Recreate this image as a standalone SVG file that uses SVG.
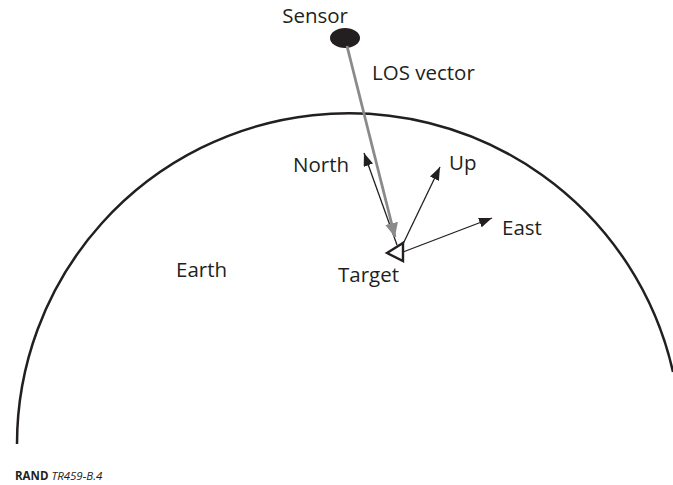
<svg xmlns="http://www.w3.org/2000/svg" width="673" height="485" viewBox="0 0 673 485">
  <style>
    .lbl { font-family: "Open Sans", "Liberation Sans", sans-serif; font-size: 20.5px; fill: #231f20; }
    .vec { stroke: #231f20; stroke-width: 1.3; fill: none; }
    .foot { font-family: "Open Sans", "Liberation Sans", sans-serif; font-size: 11.5px; fill: #231f20; }
  </style>
  <defs>
    <marker id="ah" markerUnits="userSpaceOnUse" markerWidth="13" markerHeight="10" refX="13" refY="5" orient="auto">
      <path d="M0,0 L13,5 L0,10 z" fill="#231f20"/>
    </marker>
    <marker id="ahg" markerUnits="userSpaceOnUse" markerWidth="14" markerHeight="13" refX="14" refY="6.5" orient="auto">
      <path d="M0,0 L14,6.5 L0,13 z" fill="#8a8a8a"/>
    </marker>
  </defs>

  <g id="earth">
    <path d="M17,444 A332,331 0 0 1 673,372" fill="none" stroke="#231f20" stroke-width="2.5"/>
    <text class="lbl" x="176" y="277">Earth</text>
  </g>

  <g id="sensor">
    <ellipse cx="345" cy="38" rx="15" ry="10" fill="#231f20"/>
    <text class="lbl" x="348" y="23" text-anchor="end">Sensor</text>
  </g>

  <g id="connectors">
    <line class="vec" x1="397" y1="245" x2="364" y2="153" marker-end="url(#ah)"/>
    <line class="vec" x1="403" y1="244" x2="440" y2="167" marker-end="url(#ah)"/>
    <line class="vec" x1="403" y1="252" x2="492" y2="218" marker-end="url(#ah)"/>
    <line x1="347" y1="46" x2="395" y2="237" stroke="#8a8a8a" stroke-width="2.8" marker-end="url(#ahg)"/>
  </g>

  <g id="target">
    <polygon points="387,253 403,243 403,261" fill="#ffffff" stroke="#231f20" stroke-width="2.4" stroke-linejoin="miter"/>
    <text class="lbl" x="338" y="282">Target</text>
  </g>

  <g id="labels">
    <text class="lbl" x="372" y="80">LOS vector</text>
    <text class="lbl" x="293" y="172">North</text>
    <text class="lbl" x="449" y="170">Up</text>
    <text class="lbl" x="502" y="235">East</text>
  </g>

  <g id="footer">
    <text class="foot" x="15" y="480"><tspan font-weight="bold">RAND</tspan> <tspan font-style="italic">TR459-B.4</tspan></text>
  </g>
</svg>
